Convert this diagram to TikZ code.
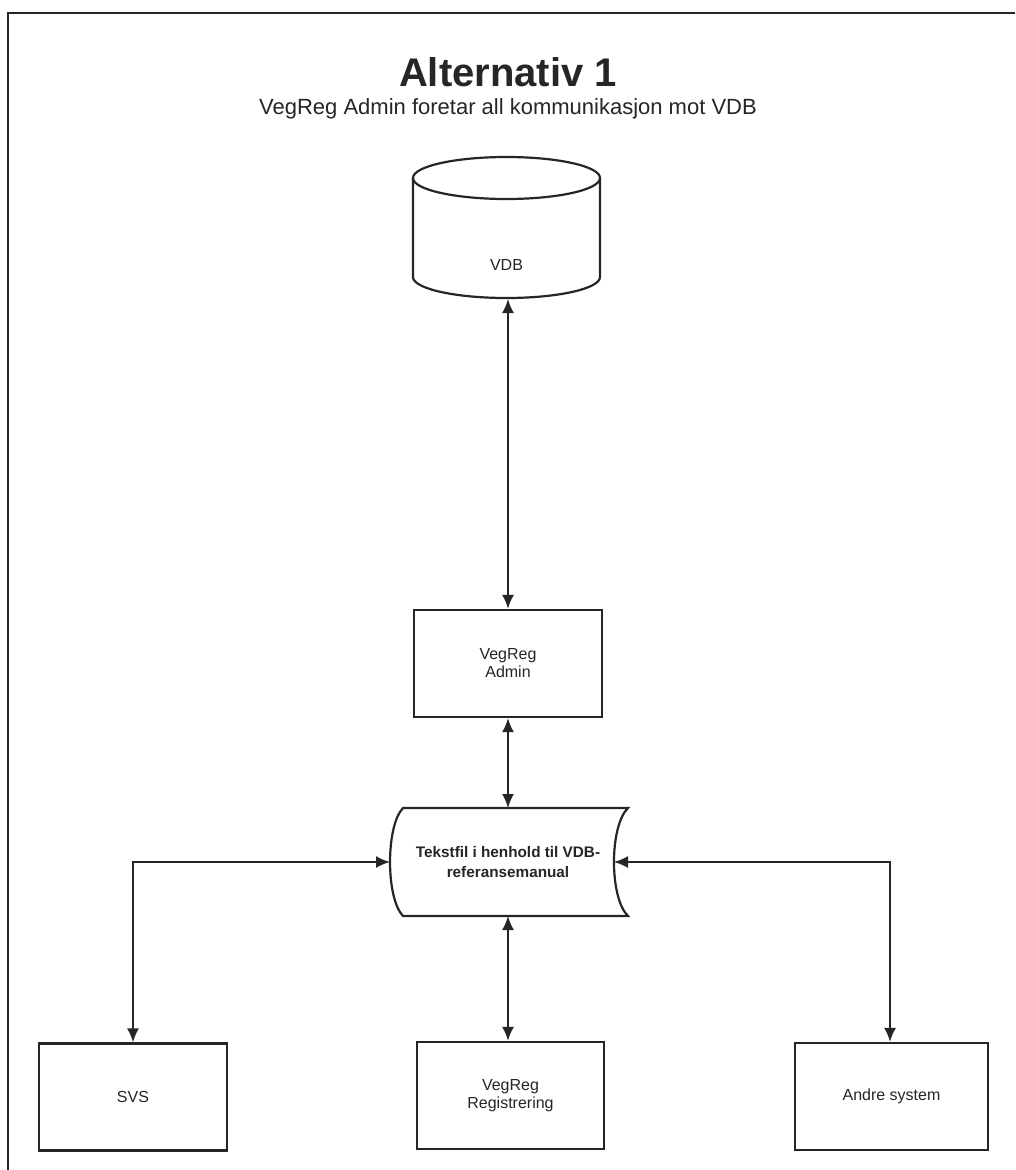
\documentclass[tikz,border=0pt]{standalone}
\usepackage{fontspec}
\setmainfont{Liberation Sans}
\usetikzlibrary{arrows.meta}
\definecolor{ink}{HTML}{262626}
\begin{document}
\begin{tikzpicture}[x=1pt,y=-1pt,
  box/.style={draw=ink, line width=2.2pt, minimum width=188pt, minimum height=107pt,
    inner sep=0pt, align=center, text=ink, font=\fontsize{16}{18}\selectfont},
  label/.style={text=ink, align=center, inner sep=0pt},
  link/.style={draw=ink, line width=1.9pt,
    {Latex[length=14pt,width=12pt]}-{Latex[length=14pt,width=12pt]}},
  outline/.style={draw=ink, line width=2.2pt}]
\useasboundingbox (0,0) rectangle (1015,1170);
\fill[white] (0,0) rectangle (1015,1170);

% page frame (top and left edges)
\draw[ink, line width=1.8pt] (8,1170) -- (8,13) -- (1015,13);

% headings
\node[label, anchor=base, font=\fontsize{40}{44}\selectfont\bfseries] (title) at (508,86) {Alternativ 1};
\node[label, anchor=base, font=\fontsize{22}{26}\selectfont] (subtitle) at (508,114) {VegReg Admin foretar all kommunikasjon mot VDB};

% database cylinder
\draw[outline] (413,178) -- (413,277)
  arc[start angle=180, end angle=360, x radius=93.5pt, y radius=21pt] -- (600,178);
\draw[outline] (506.5,178) ellipse[x radius=93.5pt, y radius=21pt];
\node[label, font=\fontsize{16}{18}\selectfont] (vdb) at (506.5,265) {VDB};
\coordinate (vdbB) at (508,299);

% application boxes
\node[box] (admin) at (508,663.5) {VegReg\\Admin};
\node[box] (svs) at (133,1097) {SVS};
\node[box, minimum width=187pt] (reg) at (510.5,1095.5) {VegReg\\Registrering};
\node[box, minimum width=193pt] (andre) at (891.5,1096.5) {Andre system};

% stored-data shape for the text file
\draw[outline] (403,808) -- (628,808)
  .. controls (609.3,826) and (609.3,898) .. (628,916)
  -- (403,916)
  .. controls (385.7,898) and (385.7,826) .. (403,808) -- cycle;
\node[label, font=\fontsize{15.3}{20}\selectfont\bfseries] (tf) at (508,862) {Tekstfil i henhold til VDB-\\referansemanual};
\coordinate (tfT) at (508,808);
\coordinate (tfB) at (508,916);
\coordinate (tfL) at (390,862);
\coordinate (tfR) at (614,862);

% connectors
\draw[link] (vdbB) -- (vdbB |- admin.north);
\draw[link] (admin.south) -- (tfT);
\draw[link] (tfB) -- (tfB |- reg.north);
\draw[link] (svs.north) |- (tfL);
\draw[link] (andre.north -| 890,0) |- (tfR);
\end{tikzpicture}
\end{document}
